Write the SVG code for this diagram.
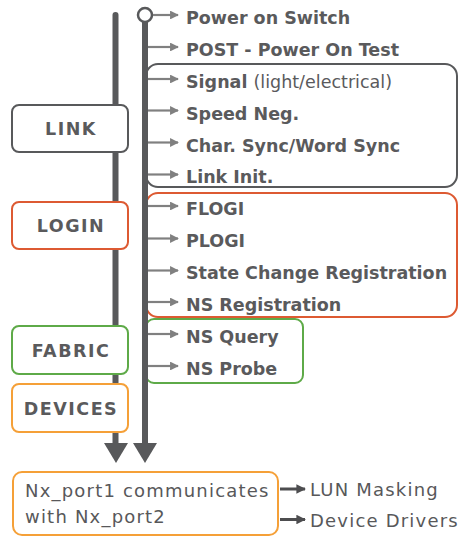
<svg xmlns="http://www.w3.org/2000/svg" width="459" height="537" viewBox="0 0 459 537">
<defs>
<style>
.t{font-family:"DejaVu Sans","Liberation Sans",sans-serif;font-weight:bold;font-size:17.5px;fill:#5a5a5c}
.r{font-family:"DejaVu Sans","Liberation Sans",sans-serif;font-weight:normal;font-size:18px;fill:#58585a;letter-spacing:1.2px}
.lbl{font-family:"DejaVu Sans","Liberation Sans",sans-serif;font-weight:bold;font-size:17.5px;fill:#5a5a5c;letter-spacing:1.5px;text-anchor:middle}
.box{fill:#fff;stroke-width:2}
.frame{fill:none;stroke-width:2}
.grey{stroke:#58595b}
.red{stroke:#dd5a32}
.green{stroke:#5eaa48}
.orange{stroke:#f5a038}
.sm{stroke:#808080;stroke-width:2.2;fill:none}
.main{stroke:#58595b;stroke-width:6;stroke-linecap:round;fill:none}
</style>
<marker id="ah" viewBox="0 0 10 10" refX="9" refY="5" markerWidth="4" markerHeight="4" orient="auto" markerUnits="strokeWidth">
<path d="M0,0 L10,5 L0,10 z" fill="#808080"/>
</marker>
<marker id="ahd" viewBox="0 0 10 10" refX="9" refY="5" markerWidth="3.2" markerHeight="3.2" orient="auto" markerUnits="strokeWidth">
<path d="M0,0 L10,5 L0,10 z" fill="#4d4d4f"/>
</marker>
</defs>

<g id="frames">
<rect class="frame grey" x="146" y="64" width="311" height="123" rx="12"/>
<rect class="frame red" x="146" y="193" width="311" height="124" rx="12"/>
<rect class="frame green" x="146" y="319" width="157" height="64" rx="8"/>
</g>

<g id="connectors">
<line class="main" x1="115.5" y1="15" x2="115.5" y2="446"/>
<polygon points="104,443 128,443 116,463" fill="#58595b"/>
<line class="main" x1="145" y1="22" x2="145" y2="446"/>
<polygon points="133,443 157,443 145,463" fill="#58595b"/>
<circle cx="145" cy="15" r="7" fill="#fff" stroke="#58595b" stroke-width="2.5"/>
<line class="sm" x1="153" y1="15" x2="178" y2="15" marker-end="url(#ah)"/>
<line class="sm" x1="148" y1="47" x2="178" y2="47" marker-end="url(#ah)"/>
<line class="sm" x1="148" y1="79" x2="178" y2="79" marker-end="url(#ah)"/>
<line class="sm" x1="148" y1="110.5" x2="178" y2="110.5" marker-end="url(#ah)"/>
<line class="sm" x1="148" y1="142.5" x2="178" y2="142.5" marker-end="url(#ah)"/>
<line class="sm" x1="148" y1="174.5" x2="178" y2="174.5" marker-end="url(#ah)"/>
<line class="sm" x1="148" y1="206" x2="178" y2="206" marker-end="url(#ah)"/>
<line class="sm" x1="148" y1="238.5" x2="178" y2="238.5" marker-end="url(#ah)"/>
<line class="sm" x1="148" y1="270.5" x2="178" y2="270.5" marker-end="url(#ah)"/>
<line class="sm" x1="148" y1="302" x2="178" y2="302" marker-end="url(#ah)"/>
<line class="sm" x1="148" y1="334" x2="178" y2="334" marker-end="url(#ah)"/>
<line class="sm" x1="148" y1="366" x2="178" y2="366" marker-end="url(#ah)"/>
<line x1="280" y1="489" x2="305" y2="489" stroke="#4d4d4f" stroke-width="3" marker-end="url(#ahd)"/>
<line x1="280" y1="519.5" x2="305" y2="519.5" stroke="#4d4d4f" stroke-width="3" marker-end="url(#ahd)"/>
</g>

<g id="steps">
<text class="t" x="186" y="24">Power on Switch</text>
<text class="t" x="186" y="56">POST - Power On Test</text>
<text class="t" x="186" y="88">Signal <tspan font-weight="normal">(light/electrical)</tspan></text>
<text class="t" x="186" y="119.5">Speed Neg.</text>
<text class="t" x="186" y="151.5">Char. Sync/Word Sync</text>
<text class="t" x="186" y="183">Link Init.</text>
<text class="t" x="186" y="215">FLOGI</text>
<text class="t" x="186" y="247">PLOGI</text>
<text class="t" x="186" y="279">State Change Registration</text>
<text class="t" x="186" y="310.5">NS Registration</text>
<text class="t" x="186" y="342.5">NS Query</text>
<text class="t" x="186" y="374.5">NS Probe</text>
</g>

<g id="link">
<rect class="box grey" x="12" y="105" width="116" height="47" rx="7"/>
<text class="lbl" x="71" y="135">LINK</text>
</g>
<g id="login">
<rect class="box red" x="12" y="202" width="116" height="47" rx="7"/>
<text class="lbl" x="71" y="232">LOGIN</text>
</g>
<g id="fabric">
<rect class="box green" x="12" y="326" width="116" height="48" rx="7"/>
<text class="lbl" x="71" y="357">FABRIC</text>
</g>
<g id="devices">
<rect class="box orange" x="12" y="384" width="116" height="48" rx="7"/>
<text class="lbl" x="71" y="415">DEVICES</text>
</g>
<g id="nxport">
<rect class="box orange" x="13" y="472" width="265" height="63" rx="9"/>
<text class="r" x="25" y="497">Nx_port1 communicates</text>
<text class="r" x="25" y="523">with Nx_port2</text>
</g>
<g id="lun">
<text class="r" x="310" y="496">LUN Masking</text>
</g>
<g id="drivers">
<text class="r" x="310" y="527">Device Drivers</text>
</g>
</svg>
